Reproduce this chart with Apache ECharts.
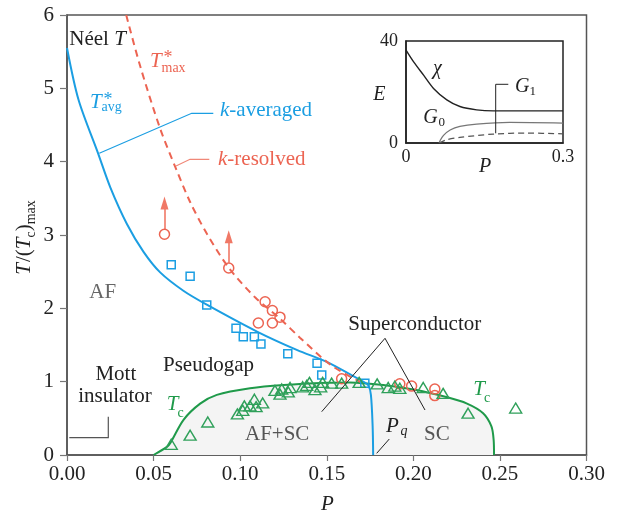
<!DOCTYPE html>
<html><head><meta charset="utf-8">
<script src="https://cdn.jsdelivr.net/npm/echarts@6/dist/echarts.min.js"></script>
<style>html,body{margin:0;padding:0;background:#fff}#c{width:619px;height:513px}</style>
</head><body><div id="c"></div>
<script>
// ---------- data ----------
const xTickLabels = ['0.00','0.05','0.10','0.15','0.20','0.25','0.30'];
const yTickLabels = ['0','1','2','3','4','5','6'];
const insetXTickLabels = ['0','0.3'];
const insetYTickLabels = ['0','40'];

const tavgCurve = [[0,5.55],[0.0067,4.84],[0.018,4.11],[0.025,3.65],[0.0346,3.15],[0.0442,2.77],[0.0538,2.49],[0.0672,2.24],[0.0807,2.05],[0.110,1.68],[0.133,1.43],[0.150,1.27],[0.171,1.0],[0.174,0.95],[0.1755,0.82],[0.1765,0.39],[0.1768,0]];
const tmaxCurve = [[0.0342,6.0],[0.0423,5.30],[0.0538,4.45],[0.0625,3.93],[0.0711,3.45],[0.0807,3.02],[0.0932,2.56],[0.1086,2.15],[0.123,1.86],[0.1345,1.60],[0.1528,1.22],[0.170,0.99]];
const tcCurve = [[0.05,0],[0.0577,0.11],[0.0596,0.16],[0.0673,0.48],[0.0769,0.70],[0.0865,0.82],[0.1057,0.91],[0.125,0.955],[0.15,0.986],[0.1634,0.99],[0.1826,0.955],[0.2018,0.886],[0.219,0.79],[0.2307,0.705],[0.2403,0.57],[0.2451,0.39],[0.2464,0.20],[0.2466,0]];

const squares = [[0.0602,2.595],[0.0711,2.437],[0.0807,2.045],[0.0976,1.728],[0.1018,1.614],[0.1082,1.614],[0.112,1.514],[0.1275,1.382],[0.1444,1.251],[0.1471,1.091],[0.172,0.978]];
const circles = [[0.0563,3.01],[0.0934,2.55],[0.1144,2.09],[0.1186,1.97],[0.123,1.88],[0.1105,1.80],[0.1186,1.80],[0.1586,1.04],[0.1922,0.97],[0.199,0.94],[0.2124,0.90],[0.2124,0.81]];
const triangles = [[0.0602,0.146],[0.0711,0.27],[0.0813,0.45],[0.0984,0.56],[0.1015,0.61],[0.1024,0.67],[0.1057,0.67],[0.1082,0.76],[0.1092,0.66],[0.113,0.71],[0.1201,0.88],[0.123,0.83],[0.124,0.90],[0.1278,0.86],[0.1288,0.92],[0.1361,0.93],[0.1384,0.95],[0.140,0.99],[0.1432,0.89],[0.1465,0.93],[0.1476,0.99],[0.1528,0.98],[0.1586,0.98],[0.1687,0.99],[0.1791,0.97],[0.1855,0.92],[0.1893,0.94],[0.1922,0.91],[0.2057,0.92],[0.2172,0.84],[0.2316,0.57],[0.2591,0.64]];
const lowerBoundPoints = [[0.0563,3.01],[0.0934,2.55]];
const lowerBoundRise = 0.5;

const insetChi = [[0,36.4],[0.0146,31.8],[0.0336,26.6],[0.0526,21.4],[0.078,16.9],[0.103,14.3],[0.135,13.0],[0.167,12.6],[0.3,12.6]];
const insetG0 = [[0.0634,0],[0.0653,1.0],[0.0717,3.0],[0.0844,5.1],[0.103,6.5],[0.135,7.4],[0.198,8.05],[0.3,7.8]];
const insetG1 = [[0.0634,0],[0.078,1.3],[0.103,2.2],[0.167,3.5],[0.23,3.9],[0.3,3.6]];

// ---------- styles ----------
const FONT = '"Liberation Serif","Times New Roman",serif';
const BLUE = '#1b9ee2', RED = '#ec6452', ARROW = '#f07866', GREEN = '#1f9a4a', GREEN2 = '#2fa05a', AXIS = '#555', INK = '#222';

const mc = document.createElement('canvas').getContext('2d');
function tw(t, s, it){ mc.font = (it?'italic ':'') + s + 'px ' + FONT; return mc.measureText(t).width; }
function T(x, base, t, o){ o = o || {}; const s = o.s || 21;
  return { type:'text', x:x, y:base - 0.34*s, z:50, silent:true,
    style:{ text:t, font:(o.it?'italic ':'') + s + 'px ' + FONT, fill:o.c || INK, align:o.al || 'left', verticalAlign:'middle' } };
}
function seq(x, base, pieces, c){ const out = []; let cx = x;
  for (const p of pieces){ const s = p.s || 21; out.push(T(cx + (p.dx||0), base + (p.dy||0), p.t, {s:s, it:p.it, c:c})); cx += tw(p.t, s, p.it) + (p.dx||0) + (p.gap||0); }
  return out; }
function seqWidth(pieces){ let w = 0; for (const p of pieces){ w += tw(p.t, p.s||21, p.it) + (p.dx||0) + (p.gap||0);} return w; }
function L(points, color, w, z){ return { type:'polyline', z:z||40, silent:true, shape:{points:points}, style:{stroke:color, lineWidth:w||1.2, fill:null} }; }

const yNamePieces = [{t:'T',it:true,gap:1},{t:'/('},{t:'T',it:true,gap:0},{t:'c',s:14,dy:5},{t:')'},{t:'max',s:14,dy:5}];
const yNameW = seqWidth(yNamePieces);

const chart = echarts.init(document.getElementById('c'), null, {renderer:'canvas', width:619, height:513});

const arrowShafts = lowerBoundPoints.map(p => ({coords:[[p[0], p[1]+0.07],[p[0], p[1]+lowerBoundRise-0.08]]}));
const arrowHeads = lowerBoundPoints.map(p => [p[0], p[1]+lowerBoundRise-0.075]);

const graphics = [].concat(
  seq(69.3, 46.7, [{t:'Néel '},{t:'T',it:true}], INK),
  [T(150, 68.3, 'T', {it:true, c:RED}), T(163.5, 64.5, '*', {s:18, c:RED}), T(161.5, 73.5, 'max', {s:14, c:RED})],
  [T(90, 110, 'T', {it:true, c:BLUE}), T(103.5, 106.5, '*', {s:18, c:BLUE}), T(101.5, 112, 'avg', {s:14, c:BLUE})],
  seq(220, 118, [{t:'k',it:true},{t:'-averaged'}], BLUE),
  seq(218, 166.7, [{t:'k',it:true},{t:'-resolved'}], RED),
  [T(89.3, 300, 'AF', {c:'#666'})],
  [T(163, 373, 'Pseudogap')],
  [T(115.8, 381.7, 'Mott', {al:'center'}), T(115, 404, 'insulator', {al:'center'})],
  [T(166.7, 411.7, 'T', {it:true, c:GREEN}), T(177.5, 418.3, 'c', {s:14, c:GREEN})],
  [T(473.3, 396.7, 'T', {it:true, c:GREEN}), T(484, 403.3, 'c', {s:14, c:GREEN})],
  [T(245, 441.7, 'AF+SC', {c:'#555'}), T(424, 441.7, 'SC', {c:'#555'})],
  [T(386, 433.3, 'P', {it:true}), T(400.5, 436.5, 'q', {s:14, it:true})],
  [T(348.3, 331.7, 'Superconductor')],
  [T(327.5, 512, 'P', {it:true, al:'center'})],
  [{ type:'group', x:31.5, y:237.5, rotation:Math.PI/2, children: seq(-yNameW/2, 0, yNamePieces, INK) }],
  // inset labels
  [T(373.3, 101.7, 'E', {s:20, it:true}), T(433, 76, 'χ', {s:20, it:true}),
   T(423.3, 125, 'G', {s:20, it:true}), T(438.5, 127, '0', {s:13}),
   T(515, 93.3, 'G', {s:20, it:true}), T(529.5, 95.5, '1', {s:13}),
   T(485, 173.3, 'P', {s:20, it:true, al:'center'})],
  // leader lines
  [L([[99.3,153.3],[191.7,113.3],[213.3,113.3]], BLUE, 1.2),
   L([[176,166],[190,159.3],[209.3,159.3]], '#f08878', 1.2),
   L([[69.3,437.7],[108.3,437.7],[108.3,416.7]], '#555', 1.2),
   L([[376.7,453.3],[389.3,439]], INK, 1),
   L([[321.7,411.7],[385,338.3],[425,410]], INK, 1),
   L([[495.7,133.3],[495.7,84.3],[508.3,84.3]], INK, 1)]
);

const option = {
  animation:false,
  backgroundColor:'#fff',
  textStyle:{fontFamily:FONT},
  grid:[
    {left:67, top:15, width:519.5, height:440, show:true, borderColor:AXIS, borderWidth:1.5, containLabel:false, outerBoundsMode:'none'},
    {left:406, top:41, width:157, height:102, show:true, borderColor:INK, borderWidth:1.5, containLabel:false, outerBoundsMode:'none'}
  ],
  xAxis:[
    {type:'value', gridIndex:0, min:0, max:0.3, interval:0.05,
     axisLine:{show:true, onZero:false, lineStyle:{color:AXIS, width:1.5}},
     axisTick:{show:true, inside:false, length:6, lineStyle:{color:'#777', width:1.2}},
     axisLabel:{show:true, margin:9, color:INK, fontFamily:FONT, fontSize:21, formatter:(v)=>xTickLabels[Math.round(v/0.05)]},
     splitLine:{show:false}},
    {type:'value', gridIndex:1, min:0, max:0.3, interval:0.3,
     axisLine:{show:true, onZero:false, lineStyle:{color:INK, width:1.5}},
     axisTick:{show:false},
     axisLabel:{show:true, margin:5, color:INK, fontFamily:FONT, fontSize:18, formatter:(v)=>insetXTickLabels[Math.round(v/0.3)]},
     splitLine:{show:false}}
  ],
  yAxis:[
    {type:'value', gridIndex:0, min:0, max:6, interval:1,
     axisLine:{show:true, onZero:false, lineStyle:{color:AXIS, width:1.5}},
     axisTick:{show:true, inside:false, length:7, lineStyle:{color:'#777', width:1.2}},
     axisLabel:{show:true, margin:13, color:INK, fontFamily:FONT, fontSize:21, formatter:(v)=>yTickLabels[Math.round(v)]},
     splitLine:{show:false}},
    {type:'value', gridIndex:1, min:0, max:40, interval:40,
     axisLine:{show:true, onZero:false, lineStyle:{color:INK, width:1.5}},
     axisTick:{show:false},
     axisLabel:{show:true, margin:8, color:INK, fontFamily:FONT, fontSize:18, formatter:(v)=>insetYTickLabels[Math.round(v/40)]},
     splitLine:{show:false}}
  ],
  series:[
    {type:'line', xAxisIndex:0, yAxisIndex:0, data:tcCurve, smooth:0.3, symbol:'none',
     lineStyle:{color:GREEN, width:2}, areaStyle:{color:'#f4f4f4', opacity:1}, z:2},
    {type:'line', xAxisIndex:0, yAxisIndex:0, data:tavgCurve, smooth:0.3, symbol:'none',
     lineStyle:{color:BLUE, width:2}, z:3},
    {type:'line', xAxisIndex:0, yAxisIndex:0, data:tmaxCurve, smooth:0.3, symbol:'none',
     lineStyle:{color:RED, width:2, type:[7,5]}, z:3},
    {type:'scatter', xAxisIndex:0, yAxisIndex:0, data:squares, symbol:'rect', symbolSize:8,
     itemStyle:{color:'rgba(0,0,0,0)', borderColor:BLUE, borderWidth:1.5, opacity:1}, z:4},
    {type:'scatter', xAxisIndex:0, yAxisIndex:0, data:circles, symbol:'circle', symbolSize:10,
     itemStyle:{color:'rgba(0,0,0,0)', borderColor:RED, borderWidth:1.5, opacity:1}, z:4},
    {type:'scatter', xAxisIndex:0, yAxisIndex:0, data:triangles, symbol:'triangle', symbolSize:[12,10],
     itemStyle:{color:'rgba(0,0,0,0)', borderColor:GREEN2, borderWidth:1.4, opacity:1}, z:4},
    {type:'lines', coordinateSystem:'cartesian2d', xAxisIndex:0, yAxisIndex:0, data:arrowShafts, symbol:'none',
     lineStyle:{color:ARROW, width:1.6, opacity:1, curveness:0}, z:4},
    {type:'scatter', xAxisIndex:0, yAxisIndex:0, data:arrowHeads, symbol:'triangle', symbolSize:[8,13],
     itemStyle:{color:ARROW, opacity:1}, z:4},
    {type:'line', xAxisIndex:1, yAxisIndex:1, data:insetChi, smooth:0.3, symbol:'none',
     lineStyle:{color:INK, width:1.4}, z:3},
    {type:'line', xAxisIndex:1, yAxisIndex:1, data:insetG0, smooth:0.3, symbol:'none',
     lineStyle:{color:'#777', width:1.3}, z:3},
    {type:'line', xAxisIndex:1, yAxisIndex:1, data:insetG1, smooth:0.3, symbol:'none',
     lineStyle:{color:'#555', width:1.2, type:[6,4]}, z:3}
  ],
  graphic: graphics
};
chart.setOption(option);
</script>
</body></html>
